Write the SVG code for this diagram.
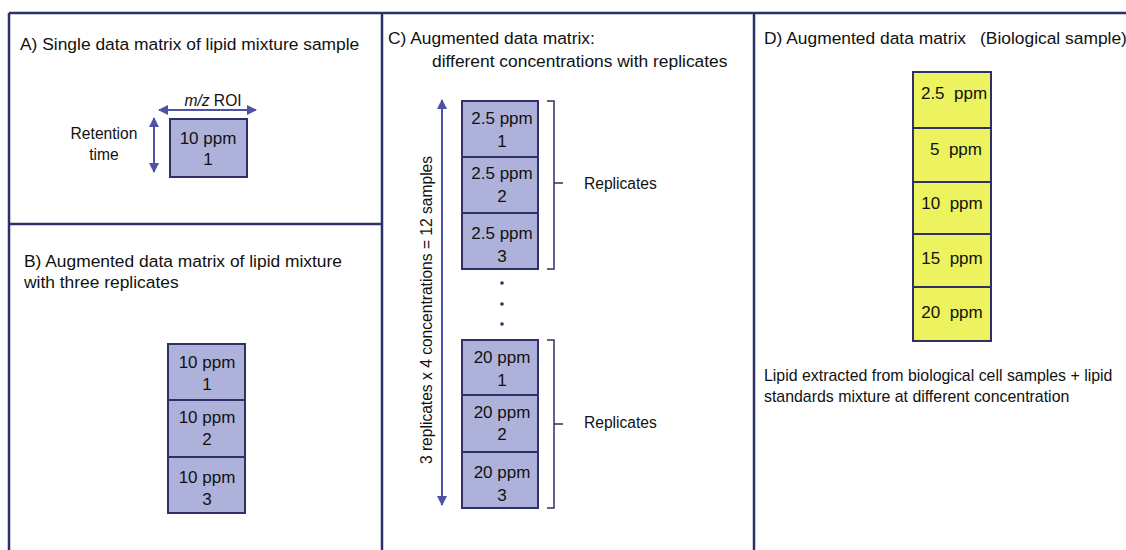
<svg xmlns="http://www.w3.org/2000/svg" width="1126" height="550" viewBox="0 0 1126 550">
<defs>
<style>
text{font-family:"Liberation Sans",Arial,sans-serif;fill:#111;}
.title{font-size:17.4px;}
.lbl{font-size:15.6px;}
.cap{font-size:15.9px;}
.cell{font-size:17px;text-anchor:middle;}
.pre{white-space:pre;}
.frame{fill:none;stroke:#2e3168;stroke-width:2.5;}
.mat{fill:#aeb2da;stroke:#2e3168;stroke-width:2;}
.yel{fill:#ecf35e;stroke:#2e3168;stroke-width:2;}
.arr{stroke:#4d52a6;stroke-width:2;fill:none;}
.brk{stroke:#2e3168;stroke-width:1.5;fill:none;}
.dot{fill:#2e3168;}
</style>
<marker id="ah" viewBox="0 0 10 10" refX="9" refY="5" markerWidth="5" markerHeight="5" orient="auto-start-reverse" markerUnits="strokeWidth">
<path d="M0,0 L10,5 L0,10 Z" fill="#4d52a6"/>
</marker>
</defs>

<g id="frames">
<line class="frame" x1="9" y1="13" x2="1126" y2="13"/>
<line class="frame" x1="9" y1="13" x2="9" y2="550"/>
<line class="frame" x1="382" y1="13" x2="382" y2="550"/>
<line class="frame" x1="754" y1="13" x2="754" y2="550"/>
<line class="frame" x1="9" y1="224" x2="382" y2="224"/>
</g>

<g id="panelA">
<text class="title" x="20" y="50">A) Single data matrix of lipid mixture sample</text>
<g id="A-matrix">
<rect class="mat" x="170" y="119" width="77" height="58"/>
<text class="cell" x="208" y="144">10 ppm</text>
<text class="cell" x="208" y="165">1</text>
</g>
<text class="lbl" x="213" y="106" text-anchor="middle"><tspan font-style="italic">m/z</tspan> ROI</text>
<text class="lbl" x="104" y="139" text-anchor="middle">Retention</text>
<text class="lbl" x="104" y="160" text-anchor="middle">time</text>
</g>

<g id="panelB">
<text class="title" x="24" y="267">B) Augmented data matrix of lipid mixture</text>
<text class="title" x="24" y="288">with three replicates</text>
<g id="B-cell1"><rect class="mat" x="168" y="344" width="77" height="56"/>
<text class="cell" x="207" y="368">10 ppm</text><text class="cell" x="207" y="390">1</text></g>
<g id="B-cell2"><rect class="mat" x="168" y="400" width="77" height="57"/>
<text class="cell" x="207" y="423">10 ppm</text><text class="cell" x="207" y="445">2</text></g>
<g id="B-cell3"><rect class="mat" x="168" y="457" width="77" height="56"/>
<text class="cell" x="207" y="483">10 ppm</text><text class="cell" x="207" y="505">3</text></g>
</g>

<g id="panelC">
<text class="title" x="388" y="44">C) Augmented data matrix:</text>
<text class="title" x="432" y="67">different concentrations with replicates</text>
<g id="C-top1"><rect class="mat" x="462" y="101" width="76" height="56"/>
<text class="cell" x="502" y="124">2.5 ppm</text><text class="cell" x="502" y="147">1</text></g>
<g id="C-top2"><rect class="mat" x="462" y="157" width="76" height="56"/>
<text class="cell" x="502" y="179">2.5 ppm</text><text class="cell" x="502" y="202">2</text></g>
<g id="C-top3"><rect class="mat" x="462" y="213" width="76" height="56"/>
<text class="cell" x="502" y="239">2.5 ppm</text><text class="cell" x="502" y="262">3</text></g>
<g id="C-bot1"><rect class="mat" x="462" y="340" width="76" height="55"/>
<text class="cell" x="502" y="363">20 ppm</text><text class="cell" x="502" y="386">1</text></g>
<g id="C-bot2"><rect class="mat" x="462" y="395" width="76" height="57"/>
<text class="cell" x="502" y="418">20 ppm</text><text class="cell" x="502" y="440">2</text></g>
<g id="C-bot3"><rect class="mat" x="462" y="452" width="76" height="56"/>
<text class="cell" x="502" y="478">20 ppm</text><text class="cell" x="502" y="501">3</text></g>
<circle class="dot" cx="502" cy="283" r="1.8"/>
<circle class="dot" cx="502" cy="304" r="1.8"/>
<circle class="dot" cx="502" cy="324" r="1.8"/>
<text class="lbl" x="584" y="189">Replicates</text>
<text class="lbl" x="584" y="428">Replicates</text>
<text class="lbl" transform="translate(432,310) rotate(-90)" text-anchor="middle">3 replicates x 4 concentrations = 12 samples</text>
</g>

<g id="panelD">
<text class="title" x="764" y="44">D) Augmented data matrix</text>
<text class="title" x="980" y="44">(Biological sample)</text>
<g id="D-c1"><rect class="yel" x="913" y="72" width="78" height="56"/>
<text class="cell pre" x="954" y="99">2.5  ppm</text></g>
<g id="D-c2"><rect class="yel" x="913" y="128" width="78" height="54"/>
<text class="cell pre" x="956" y="155">5  ppm</text></g>
<g id="D-c3"><rect class="yel" x="913" y="182" width="78" height="52"/>
<text class="cell pre" x="952" y="209">10  ppm</text></g>
<g id="D-c4"><rect class="yel" x="913" y="234" width="78" height="53"/>
<text class="cell pre" x="952" y="264">15  ppm</text></g>
<g id="D-c5"><rect class="yel" x="913" y="287" width="78" height="54"/>
<text class="cell pre" x="952" y="318">20  ppm</text></g>
<text class="cap" x="764" y="381">Lipid extracted from biological cell samples + lipid</text>
<text class="cap" x="764" y="402">standards mixture at different concentration</text>
</g>

<g id="connectors">
<line class="arr" x1="159" y1="110" x2="256" y2="110" marker-start="url(#ah)" marker-end="url(#ah)"/>
<line class="arr" x1="154" y1="118" x2="154" y2="172" marker-start="url(#ah)" marker-end="url(#ah)"/>
<line class="arr" x1="442" y1="100" x2="442" y2="505" marker-start="url(#ah)" marker-end="url(#ah)"/>
<path class="brk" d="M547,101 H554 V269 H547 M554,183 H563"/>
<path class="brk" d="M547,340 H554 V508 H547 M554,424 H563"/>
</g>
</svg>
